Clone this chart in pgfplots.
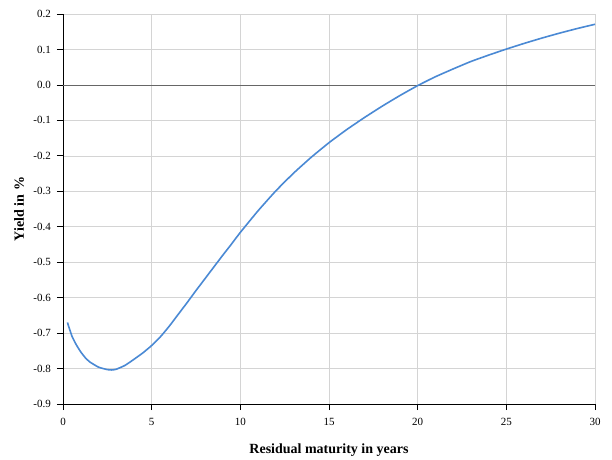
\documentclass[border=0pt]{standalone}
\usepackage{fontspec}
\setmainfont{Liberation Serif}
\usepackage{pgfplots}
\pgfplotsset{compat=1.18}
\definecolor{curveblue}{RGB}{74,137,212}
\definecolor{gridgray}{RGB}{212,212,212}
\begin{document}
\begin{tikzpicture}
\begin{axis}[
  scale only axis,
  width=532bp, height=390bp,
  xmin=0, xmax=30, ymin=-0.9, ymax=0.2,
  xtick={0,5,...,30},
  ytick={-0.9,-0.8,...,0.2},
  axis lines*=left,
  axis line style={black, line width=0.8bp},
  tick align=outside,
  major tick length=6bp,
  tick style={black, line width=0.8bp},
  grid=major,
  grid style={gridgray, line width=0.6bp},
  extra y ticks={0},
  extra y tick labels={},
  extra y tick style={grid style={gray!80!black, line width=0.6bp}},
  /pgf/number format/assume math mode=true,
  yticklabel={\pgfmathprintnumber[fixed,fixed zerofill,precision=1]{\tick}},
  xticklabel={\pgfmathprintnumber{\tick}},
  ticklabel style={font=\fontsize{11bp}{13bp}\selectfont},
  yticklabel style={inner sep=0pt, xshift=-6bp},
  xticklabel style={inner sep=0pt, yshift=-8bp},
  xlabel={Residual maturity in years},
  ylabel={Yield in \%},
  every axis x label/.style={at={(axis description cs:0.5,0)}, anchor=center, yshift=-46bp, font=\bfseries\fontsize{14bp}{16bp}\selectfont},
  every axis y label/.style={at={(axis description cs:0,0.5)}, anchor=center, xshift=-44bp, rotate=90, font=\bfseries\fontsize{14bp}{16bp}\selectfont},
  clip=false,
]
\addplot[curveblue, line width=1.6bp, smooth, tension=0.3] coordinates {
(0.25,-0.670) (0.5,-0.708) (0.75,-0.733) (1.0,-0.753) (1.25,-0.769) (1.5,-0.781)
(2.0,-0.796) (2.5,-0.803) (2.75,-0.804) (3.0,-0.802) (3.5,-0.791) (4.0,-0.774)
(4.5,-0.756) (5.0,-0.735) (5.5,-0.710) (6.0,-0.680) (6.5,-0.647) (7.0,-0.614)
(7.5,-0.580) (8.0,-0.547) (8.5,-0.514) (9.0,-0.481) (9.5,-0.449) (10.0,-0.416)
(11.0,-0.355) (12.0,-0.299) (13.0,-0.249) (14.0,-0.204) (15.0,-0.163)
(16.0,-0.126) (17.0,-0.092) (18.0,-0.060) (19.0,-0.030) (20.0,-0.002)
(21.0,0.023) (22.0,0.045) (23.0,0.066) (24.0,0.084) (25.0,0.101)
(26.0,0.117) (27.0,0.132) (28.0,0.146) (29.0,0.159) (30.0,0.171)
};
\end{axis}
\path[use as bounding box] (current axis.south west) ++(-63bp,-54bp) rectangle ++(612bp,458bp);
\end{tikzpicture}
\end{document}
